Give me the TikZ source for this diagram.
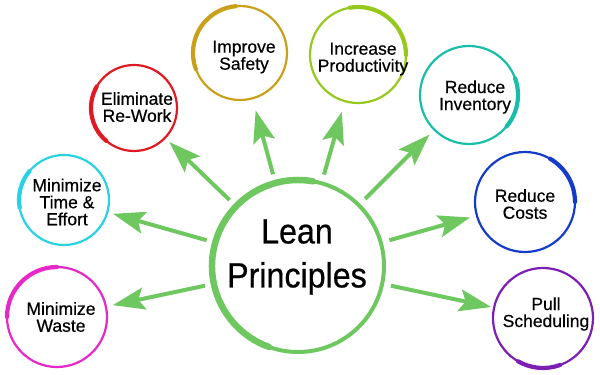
\documentclass[tikz,border=0pt]{standalone}
\usepackage{fontspec}
\setmainfont{Liberation Sans}[FakeBold=0.4]
\newfontfamily\lblfont[FakeBold=0.5]{Liberation Sans}
\newfontfamily\leanfont[FakeStretch=0.92,FakeBold=0.6]{Liberation Sans}
\usetikzlibrary{arrows.meta}
\definecolor{leangreen}{RGB}{110,200,95}
\definecolor{gold}{RGB}{200,160,25}
\definecolor{prodgreen}{RGB}{150,200,30}
\definecolor{elimred}{RGB}{225,25,35}
\definecolor{teal}{RGB}{25,190,170}
\definecolor{cyanring}{RGB}{40,210,225}
\definecolor{magring}{RGB}{230,40,200}
\definecolor{bluering}{RGB}{20,60,200}
\definecolor{purplering}{RGB}{125,30,180}
\begin{document}
\begin{tikzpicture}[x=1pt,y=1pt,
  ring/.style={circle, draw=#1, line width=2.2pt, inner sep=0pt, outer sep=0pt},
  brush/.style={draw=#1, line width=4.2pt, line cap=round},
  lbl/.style={align=center, font=\lblfont\fontsize{17.5}{17}\selectfont, inner sep=0pt},
  arr/.style={draw=leangreen, line width=4pt, -{Stealth[length=32pt,width=22pt,inset=6pt]}, shorten <=9pt}]
\useasboundingbox (0,0) rectangle (600,375);

% central circle
\node[circle, draw=leangreen, line width=4pt, inner sep=0pt, outer sep=0pt, minimum size=172pt] (lean) at (298,109) {};
\draw[brush=leangreen, line width=6.5pt] ([shift={(250:86pt)}]lean.center) arc[start angle=250, end angle=80, radius=86pt];
\node[align=center, inner sep=0pt, font=\leanfont\fontsize{35}{44}\selectfont] (leantxt) at (297,118) {Lean\\Principles};

% outer circles
\node[ring=gold, minimum size=94pt] (safety) at (240,322) {};
\draw[brush=gold] ([shift={(200:47pt)}]safety.center) arc[start angle=200, end angle=95, radius=47pt];
\node[lbl] (safetytxt) at (244,318) {Improve\\Safety};

\node[ring=prodgreen, minimum size=96pt] (prod) at (358,320) {};
\draw[brush=prodgreen] ([shift={(100:48pt)}]prod.center) arc[start angle=100, end angle=0, radius=48pt];
\node[lbl] (prodtxt) at (363,316) {Increase\\Productivity};

\node[ring=elimred, minimum size=86pt] (elim) at (134,267) {};
\draw[brush=elimred] ([shift={(150:43pt)}]elim.center) arc[start angle=150, end angle=230, radius=43pt];
\node[lbl] (elimtxt) at (137,268) {Eliminate\\Re-Work};

\node[ring=teal, minimum size=98pt] (inv) at (469,280) {};
\draw[brush=teal] ([shift={(20:49pt)}]inv.center) arc[start angle=20, end angle=-40, radius=49pt];
\node[lbl] (invtxt) at (475,278) {Reduce\\Inventory};

\node[ring=cyanring, minimum size=90pt] (time) at (64,175) {};
\draw[brush=cyanring] ([shift={(140:45pt)}]time.center) arc[start angle=140, end angle=190, radius=45pt];
\node[lbl] (timetxt) at (67,173) {Minimize\\Time \&\\Effort};

\node[ring=magring, minimum size=100pt] (waste) at (57,58) {};
\draw[brush=magring] ([shift={(90:50pt)}]waste.center) arc[start angle=90, end angle=180, radius=50pt];
\node[lbl] (wastetxt) at (61,58) {Minimize\\Waste};

\node[ring=bluering, minimum size=100pt] (costs) at (525,173) {};
\draw[brush=bluering] ([shift={(60:50pt)}]costs.center) arc[start angle=60, end angle=0, radius=50pt];
\node[lbl] (coststxt) at (525,171) {Reduce\\Costs};

\node[ring=purplering, minimum size=100pt] (pull) at (543,57) {};
\draw[brush=purplering] ([shift={(240:50pt)}]pull.center) arc[start angle=240, end angle=290, radius=50pt];
\node[lbl] (pulltxt) at (546,61) {Pull\\Scheduling};

% arrows
\draw[arr, shorten >=6pt] (lean) -- (elim);
\draw[arr, shorten >=12.5pt] (lean) -- (safety);
\draw[arr, shorten >=11pt] (lean) -- (prod);
\draw[arr, shorten >=7pt] (lean) -- (inv);
\draw[arr, shorten >=6pt] (lean) -- (time);
\draw[arr, shorten >=7pt] (lean) -- (waste);
\draw[arr, shorten >=7pt] (lean) -- (costs);
\draw[arr, shorten >=3pt] (lean) -- (pull);
\end{tikzpicture}
\end{document}
